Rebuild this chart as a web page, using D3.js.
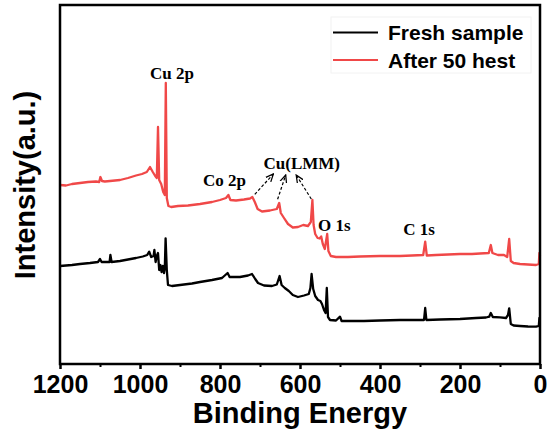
<!DOCTYPE html>
<html><head><meta charset="utf-8">
<script src="https://cdn.jsdelivr.net/npm/d3@7/dist/d3.min.js"></script>
<style>body{margin:0;background:#fff}</style>
</head><body>
<svg id="chart" width="550" height="437"></svg>
<script>
// Binding energy (eV) and intensity (a.u.)
const freshEnergy = [1200,1185,1170,1150,1125,1105,1100,1096,1085,1076,1074,1071,1050,1030,1010,993,982,977,972,966,964,961,958,955,952,949,946,943,940,938,936,933,930,920,900,870,850,820,795,781,776,750,730,720,712,705,690,670,658,651,646,638,628,618,605,590,578,574,571,567,562,555,549,545,540,536,533,530,525,510,500,496,470,440,400,350,300,290,287,284,250,200,160,135,127,123,118,100,85,80,77,73,66,50,30,10,3,1.5,0];
const freshIntensity = [98,98.5,99,100,101,102,105,102,102,102,109,102,103,104.5,106,107.5,109,112.3,107,108,114,102,108,111,94,99,92,98,91,96,125.7,94,79,78,79,80.5,82,84,86,91,87,87,88.5,90,85,81,78.5,78,79.5,88,79,76,73,69,67,68.5,70,76,90,75,68,64,63,60,54,51,76,47,44,43.5,47.3,43,43,43,43.5,44,44,44,56,44,44.5,45,46,46.5,47.3,51,47,46.7,46,49,55.7,40,38.5,38,37.5,37.3,38,46,44];
const agedEnergy = [1200,1185,1170,1150,1130,1110,1102,1099,1095,1088,1075,1050,1030,1010,995,983,975,968,962,958,955,952,947,942,938,935.5,933,929,922,905,880,850,820,800,785,779,774,760,740,725,719,713,706,695,675,658,652,648,640,630,618,605,592,580,573,569,566,562,556,551,547,543,538,532,529,523,510,480,450,400,350,320,292,287,283,260,230,200,170,150,128,123,119,105,90,82,77,73,66,50,30,10,3,1.5,0];
const agedIntensity = [179,178.5,180,181,182,182.5,182,187,183,182.5,183,184,186,188.5,190,192,197,192,188,186,237,184,180,172,169,281,166,158,157,158,158.5,160,162,164,166,169,164,163.5,164.5,165.5,167,162,155,152.5,153.5,155,161,151,146,140,136.5,137,139,138,142,164,139,130,126,125.5,127.5,120,115,130,113,108,107,107,107.5,108,108,108.5,109,122.3,108.5,109,109.5,110,110,110.5,111,119,111,109,109,107,125,103,101,100,99.5,99,100,111,108];
const seriesNames = ["Fresh sample","After 50 hest"];
const seriesColors = ["#000000","#f04848"];
const xTicks = [1200,1000,800,600,400,200,0];
const xMinorTicks = [1100,900,700,500,300,100];
const peakLabels = ["Cu 2p","Co 2p","Cu(LMM)","O 1s","C 1s"];
const peakLabelE = [920,789,595.5,514,302.5];
const peakLabelI = [291.3,184,200.7,139,135];
const arrowFromE = [713,656,571.75];
const arrowFromI = [169.7,164.7,165];
const arrowToE = [666.5,635.75,609.5];
const arrowToI = [190,189,189];

const svg = d3.select("#chart");
const L = 60, R = 540, T = 5, B = 364;
const x = d3.scaleLinear().domain([1200,0]).range([L,R]);
const y = d3.scaleLinear().domain([0,359]).range([B,T]);

const defs = svg.append("defs");
defs.append("marker").attr("id","ah").attr("viewBox","0 0 10 10").attr("refX",9).attr("refY",5)
  .attr("markerWidth",7).attr("markerHeight",7).attr("orient","auto")
  .append("path").attr("d","M0,1 L9,5 L0,9").attr("fill","none").attr("stroke","#000").attr("stroke-width",1.5);

const line = d3.line().x(d=>x(d[0])).y(d=>y(d[1]));
const data = [d3.zip(freshEnergy,freshIntensity), d3.zip(agedEnergy,agedIntensity)];
data.forEach((d,i)=>{
  svg.append("path").datum(d).attr("d",line).attr("fill","none")
    .attr("stroke",seriesColors[i]).attr("stroke-width",2.3).attr("stroke-linejoin","round");
});

// frame
svg.append("rect").attr("x",L).attr("y",T).attr("width",R-L).attr("height",B-T)
  .attr("fill","none").attr("stroke","#000").attr("stroke-width",2.5);

// x axis
const ax = svg.append("g").attr("transform",`translate(0,${B})`)
  .call(d3.axisBottom(x).tickValues(xTicks).tickSize(5).tickPadding(6).tickFormat(d3.format("d")));
ax.select(".domain").remove();
ax.selectAll(".tick line").attr("stroke-width",2.5);
ax.selectAll("text").attr("font-family","Liberation Sans, Arial, sans-serif").attr("font-weight","bold").attr("font-size",25).attr("fill","#000");
const axm = svg.append("g").attr("transform",`translate(0,${B})`)
  .call(d3.axisBottom(x).tickValues(xMinorTicks).tickSize(3).tickFormat(""));
axm.select(".domain").remove();
axm.selectAll(".tick line").attr("stroke-width",2);

svg.append("text").attr("x",(L+R)/2).attr("y",423).attr("text-anchor","middle")
  .attr("font-family","Liberation Sans, Arial, sans-serif").attr("font-weight","bold").attr("font-size",29)
  .text("Binding Energy");
svg.append("text").attr("transform","translate(35,185) rotate(-90)").attr("text-anchor","middle")
  .attr("font-family","Liberation Sans, Arial, sans-serif").attr("font-weight","bold").attr("font-size",29)
  .text("Intensity(a.u.)");

// peak labels
peakLabels.forEach((t,i)=>{
  svg.append("text").attr("x",x(peakLabelE[i])).attr("y",y(peakLabelI[i])).attr("dy","0.35em")
    .attr("text-anchor","middle").attr("font-family","Liberation Serif, Times New Roman, serif")
    .attr("font-weight","bold").attr("font-size",17).text(t);
});
arrowFromE.forEach((e,i)=>{
  svg.append("line").attr("x1",x(e)).attr("y1",y(arrowFromI[i])).attr("x2",x(arrowToE[i])).attr("y2",y(arrowToI[i]))
    .attr("stroke","#000").attr("stroke-width",1.2).attr("stroke-dasharray","3,2").attr("marker-end","url(#ah)");
});

// legend
svg.append("rect").attr("x",331).attr("y",17).attr("width",200).attr("height",56).attr("fill","none").attr("stroke","#f2f2f2");
seriesNames.forEach((n,i)=>{
  const ly = 32.5 + i*27.5;
  svg.append("line").attr("x1",333).attr("x2",378).attr("y1",ly).attr("y2",ly).attr("stroke",seriesColors[i]).attr("stroke-width",2.2);
  svg.append("text").attr("x",388).attr("y",ly).attr("dy","0.36em")
    .attr("font-family","Liberation Sans, Arial, sans-serif").attr("font-weight","bold").attr("font-size",21).text(n);
});
</script>
</body></html>
